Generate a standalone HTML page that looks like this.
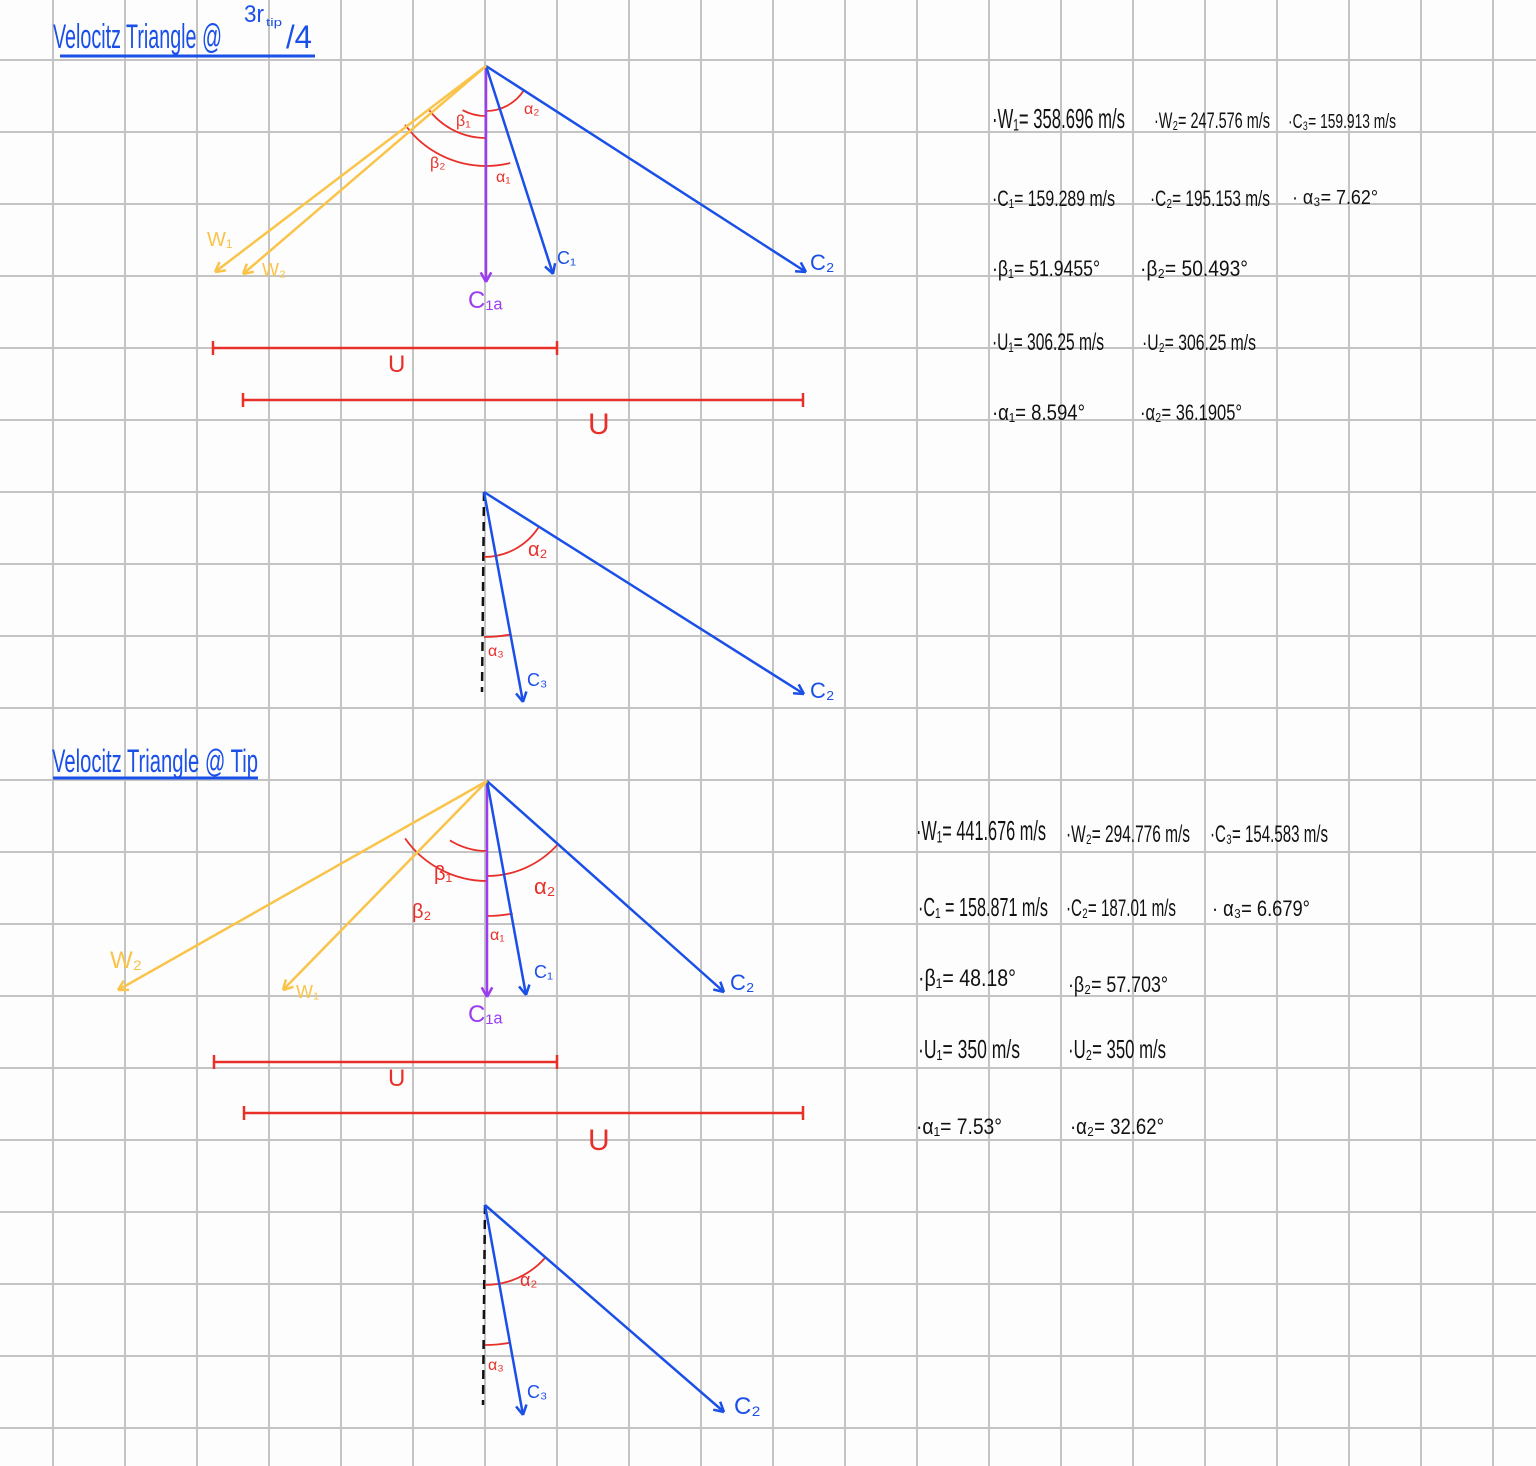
<!DOCTYPE html>
<html><head><meta charset="utf-8"><style>
html,body{margin:0;padding:0;background:#fdfdfd;}
svg{display:block;}
text{font-family:"Liberation Sans",sans-serif;}
</style></head><body>
<svg id="s" width="1536" height="1466" viewBox="0 0 1536 1466" xmlns="http://www.w3.org/2000/svg">
<rect width="1536" height="1466" fill="#fdfdfd"/>
<g id="grid"></g>
<g id="draw"></g>
<g id="txt"></g>
</svg>
<script>
const NS="http://www.w3.org/2000/svg";
const gridX=[53,125,197,269,341,413,485,557,629,701,773,845,917,989,1061,1133,1205,1277,1349,1421,1493];
const gridY=[60,132,204,276,348,420,492,564,636,708,780,852,924,996,1068,1140,1212,1284,1356,1428];
const vectors=[
[486,66,486,282,'#9b3cf0','c1a-top'],[486,66,553,274,'#1a4fe8','c1-top'],[486,66,806,272,'#1a4fe8','c2-top'],
[486,66,215,272,'#f9c449','w1-top'],[486,66,243,274,'#f9c449','w2-top'],
[484,492,523,702,'#1a4fe8','c3-top'],[484,492,804,694,'#1a4fe8','c2-top-2'],
[487,781,487,997,'#9b3cf0','c1a-tip'],[487,781,526,995,'#1a4fe8','c1-tip'],[487,781,724,992,'#1a4fe8','c2-tip'],
[487,781,118,990,'#f9c449','w2-tip'],[487,781,283,990,'#f9c449','w1-tip'],
[485,1205,523,1415,'#1a4fe8','c3-tip'],[485,1205,724,1412,'#1a4fe8','c2-tip-2']];
const uLines=[[213,557,348],[243,803,400],[214,557,1062],[244,803,1113]];
const dashed=[[484,492,482,692],[485,1205,483,1405]];
const arcs=[[486,66,50,90,118],[486,66,72,90,143],[486,66,100,90,90+54],[486,66,100,76,90],[486,66,45,33,90],
[484,492,65,33,90],[484,492,145,79,90],
[487,781,70,90,122],[487,781,100,90,145],[487,781,135,79,90],[487,781,95,42,90],
[485,1205,80,41,90],[485,1205,140,80,90]];
// texts: [x,y,size,color,text,name,width]
const texts=[
[53,48,34,'#1a4fe8','Velocitz Triangle @','title-top',169],[244,22,24,'#1a4fe8','3r','title-sup',20],[266,26,11,'#1a4fe8','tip','title-sub',16],[286,48,32,'#1a4fe8','/4','title-frac',26],
[52,772,32,'#1a4fe8','Velocitz Triangle @ Tip','title-tip',206],
[207,246,20,'#f9c449','W₁','lbl-w1',0],[262,276,18,'#f9c449','W₂','lbl-w2',0],[468,308,24,'#9b3cf0','C₁ₐ','lbl-c1a',0],[557,264,18,'#1a4fe8','C₁','lbl-c1',0],[810,270,22,'#1a4fe8','C₂','lbl-c2',0],
[456,126,16,'#e8302a','β₁','lbl-b1',0],[430,168,16,'#e8302a','β₂','lbl-b2',0],[496,182,16,'#e8302a','α₁','lbl-a1',0],[524,114,16,'#e8302a','α₂','lbl-a2',0],
[388,372,24,'#e8302a','U','lbl-u1',0],[588,434,30,'#e8302a','U','lbl-u2',0],
[528,556,20,'#e8302a','α₂','lbl-a2b',0],[488,656,16,'#e8302a','α₃','lbl-a3',0],[527,686,18,'#1a4fe8','C₃','lbl-c3',0],[810,698,22,'#1a4fe8','C₂','lbl-c2b',0],
[110,968,24,'#f9c449','W₂','lbl-w2t',0],[296,998,18,'#f9c449','W₁','lbl-w1t',0],[468,1022,24,'#9b3cf0','C₁ₐ','lbl-c1at',0],[534,978,18,'#1a4fe8','C₁','lbl-c1t',0],[730,990,22,'#1a4fe8','C₂','lbl-c2t',0],
[434,880,20,'#e8302a','β₁','lbl-b1t',0],[412,918,20,'#e8302a','β₂','lbl-b2t',0],[490,940,16,'#e8302a','α₁','lbl-a1t',0],[534,894,22,'#e8302a','α₂','lbl-a2t',0],
[388,1086,24,'#e8302a','U','lbl-u1t',0],[588,1150,30,'#e8302a','U','lbl-u2t',0],
[520,1286,18,'#e8302a','α₂','lbl-a2c',0],[488,1370,16,'#e8302a','α₃','lbl-a3c',0],[527,1398,18,'#1a4fe8','C₃','lbl-c3c',0],[734,1414,24,'#1a4fe8','C₂','lbl-c2c',0],
[992,128,28,'#111','·W₁= 358.696 m/s','val-w1-top',133],[1154,128,22,'#111','·W₂= 247.576 m/s','val-w2-top',116],[1288,128,20,'#111','·C₃= 159.913 m/s','val-c3-top',108],
[992,206,22,'#111','·C₁= 159.289  m/s','val-c1-top',123],[1150,206,22,'#111','·C₂= 195.153 m/s','val-c2-top',120],[1292,204,20,'#111','· α₃= 7.62°','val-a3-top',86],
[992,276,22,'#111','·β₁= 51.9455°','val-b1-top',108],[1140,276,22,'#111','·β₂= 50.493°','val-b2-top',108],
[992,350,24,'#111','·U₁= 306.25 m/s','val-u1-top',112],[1142,350,22,'#111','·U₂= 306.25 m/s','val-u2-top',114],
[992,420,22,'#111','·α₁= 8.594°','val-a1-top',93],[1140,420,22,'#111','·α₂= 36.1905°','val-a2-top',102],
[916,840,28,'#111','·W₁= 441.676 m/s','val-w1-tip',130],[1066,842,24,'#111','·W₂= 294.776 m/s','val-w2-tip',124],[1210,842,24,'#111','·C₃= 154.583 m/s','val-c3-tip',118],
[918,916,26,'#111','·C₁ = 158.871 m/s','val-c1-tip',130],[1066,916,24,'#111','·C₂= 187.01 m/s','val-c2-tip',110],[1212,916,22,'#111','· α₃= 6.679°','val-a3-tip',98],
[918,986,24,'#111','·β₁= 48.18°','val-b1-tip',98],[1068,992,22,'#111','·β₂= 57.703°','val-b2-tip',100],
[918,1058,26,'#111','·U₁= 350 m/s','val-u1-tip',102],[1068,1058,26,'#111','·U₂= 350 m/s','val-u2-tip',98],
[916,1134,22,'#111','·α₁= 7.53°','val-a1-tip',86],[1070,1134,22,'#111','·α₂= 32.62°','val-a2-tip',94]];

function mk(tag,attrs,parent){const e=document.createElementNS(NS,tag);for(const k in attrs)e.setAttribute(k,attrs[k]);parent.appendChild(e);return e;}
const G=document.getElementById('grid'),D=document.getElementById('draw'),T=document.getElementById('txt');
gridX.forEach(x=>{const l=mk('line',{x1:x,y1:0,x2:x,y2:1466,stroke:'#c4c4c4','stroke-width':2},G);

});
gridY.forEach(y=>{const l=mk('line',{x1:0,y1:y,x2:1536,y2:y,stroke:'#c4c4c4','stroke-width':2},G);

});
[[60,315,56],[53,258,778]].forEach(u=>{const l=mk('line',{x1:u[0],y1:u[2],x2:u[1],y2:u[2],stroke:'#1a4fe8','stroke-width':3},D);

});
dashed.forEach(d=>{const l=mk('line',{x1:d[0],y1:d[1],x2:d[2],y2:d[3],stroke:'#111','stroke-width':2.5,'stroke-dasharray':'9 6'},D);

});
uLines.forEach(u=>{const g=mk('g',{},D);


mk('line',{x1:u[0],y1:u[2],x2:u[1],y2:u[2],stroke:'#e8302a','stroke-width':2.5},g);
mk('line',{x1:u[0],y1:u[2]-7,x2:u[0],y2:u[2]+7,stroke:'#e8302a','stroke-width':2.5},g);
mk('line',{x1:u[1],y1:u[2]-7,x2:u[1],y2:u[2]+7,stroke:'#e8302a','stroke-width':2.5},g);});
arcs.forEach(a=>{const r=a[2],s=a[3]*Math.PI/180,e=a[4]*Math.PI/180;
const p=mk('path',{d:`M${a[0]+r*Math.cos(s)},${a[1]+r*Math.sin(s)} A${r},${r} 0 0 1 ${a[0]+r*Math.cos(e)},${a[1]+r*Math.sin(e)}`,fill:'none',stroke:'#e8302a','stroke-width':1.8},D);

});
vectors.forEach(v=>{const g=mk('g',{},D);


mk('line',{x1:v[0],y1:v[1],x2:v[2],y2:v[3],stroke:v[4],'stroke-width':2.5},g);
const ang=Math.atan2(v[3]-v[1],v[2]-v[0]),L=11;
[0.5,-0.5].forEach(d=>mk('line',{x1:v[2],y1:v[3],x2:v[2]-L*Math.cos(ang+d),y2:v[3]-L*Math.sin(ang+d),stroke:v[4],'stroke-width':2.5},g));});
texts.forEach(t=>{const at={x:t[0],y:t[1],'font-size':t[2],fill:t[3]};
if(t[6]){at.textLength=t[6];at.lengthAdjust='spacingAndGlyphs';}
const e=mk('text',at,T);e.textContent=t[4];

});
</script>
</body></html>
